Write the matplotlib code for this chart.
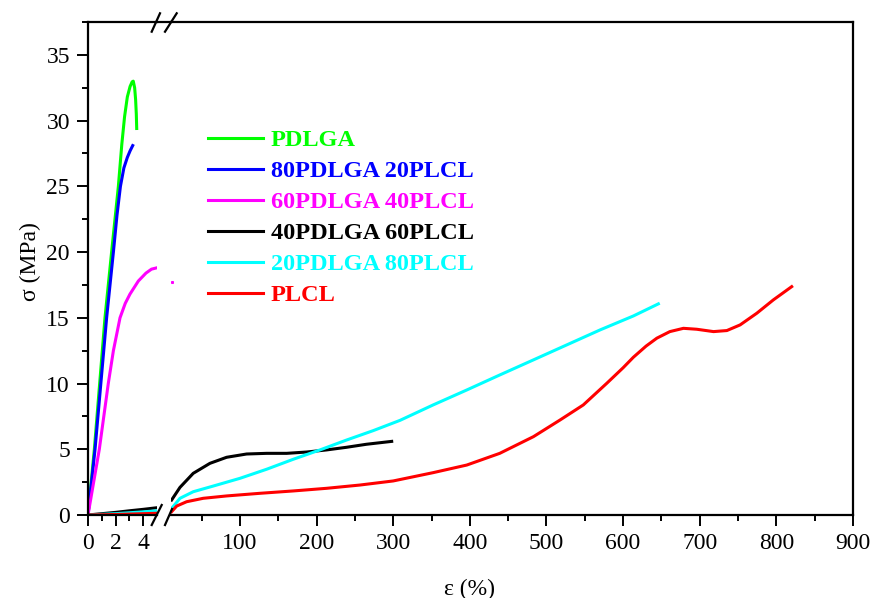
import matplotlib
matplotlib.use("Agg")
import matplotlib.pyplot as plt
from matplotlib.lines import Line2D

plt.rcParams['font.family'] = ['Liberation Serif', 'DejaVu Serif']

labels = ["PDLGA", "80PDLGA 20PLCL", "60PDLGA 40PLCL",
          "40PDLGA 60PLCL", "20PDLGA 80PLCL", "PLCL"]
colors = ["#00ff00", "#0000ff", "#ff00ff", "#000000", "#00ffff", "#ff0000"]

# left part of the broken axis (strain 0-5 %)
pdlga_x = [0, 0.46, 1.23, 1.71, 2.2, 2.45, 2.65, 2.85, 3.05, 3.2, 3.28, 3.38, 3.45, 3.5, 3.53]
pdlga_y = [0, 5.0, 15.0, 20.0, 25.0, 28.2, 30.3, 31.8, 32.6, 32.95, 33.0, 32.5, 31.6, 30.5, 29.4]

p80_x = [0, 0.51, 1.35, 1.84, 2.1, 2.35, 2.6, 2.85, 3.05, 3.24]
p80_y = [0, 5.0, 15.0, 20.0, 22.8, 25.0, 26.4, 27.2, 27.7, 28.1]

p60_x = [0, 0.82, 1.47, 1.84, 2.32, 2.7, 3.04, 3.65, 4.2, 4.6, 4.98]
p60_y = [0, 5.0, 10.0, 12.5, 15.0, 16.1, 16.8, 17.8, 18.4, 18.7, 18.8]
p60_dot_x = [10.8]
p60_dot_y = [17.75]

p40_left_x = [0, 1, 2, 3, 4, 4.97]
p40_left_y = [0, 0.1, 0.2, 0.32, 0.43, 0.55]
p20_left_x = [0, 1, 2, 3, 4, 4.97]
p20_left_y = [0, 0.05, 0.1, 0.17, 0.24, 0.32]
plcl_left_x = [0, 1, 2, 3, 4, 4.97]
plcl_left_y = [0, 0.02, 0.04, 0.07, 0.1, 0.13]

# right part of the broken axis (strain 10-900 %)
p40_x = [10.8, 21.7, 39, 60.8, 82.6, 108.7, 134.8, 161, 187, 213, 239, 265, 298]
p40_y = [1.14, 2.1, 3.17, 3.93, 4.39, 4.64, 4.69, 4.69, 4.79, 4.95, 5.15, 5.38, 5.6]

p20_x = [10.8, 21.7, 39, 65, 100, 134.8, 169.6, 204.4, 239, 274, 308.9, 352,
         396, 439, 483, 526.5, 570, 613.4, 646]
p20_y = [0.5, 1.27, 1.77, 2.2, 2.79, 3.48, 4.24, 4.95, 5.7, 6.42, 7.2, 8.37,
         9.51, 10.65, 11.8, 12.94, 14.08, 15.14, 16.06]

plcl_x = [10.8, 17.4, 30.4, 52, 82.6, 126, 169.6, 213, 256.7, 300, 352, 396,
          439, 483, 517.8, 548, 578.7, 600, 613.4, 630, 644, 661, 678.7, 696, 718,
          735.4, 752.7, 774.5, 796, 820]
plcl_y = [0.25, 0.68, 1.01, 1.27, 1.45, 1.65, 1.83, 2.03, 2.28, 2.59, 3.22, 3.8,
          4.69, 5.96, 7.23, 8.37, 10.02, 11.2, 12.0, 12.85, 13.45, 13.95, 14.2, 14.13,
          13.95, 14.03, 14.46, 15.35, 16.36, 17.37]

fig = plt.figure(figsize=(8.73, 5.98), dpi=100)
ax1 = fig.add_axes([88 / 873, 83 / 598, 69 / 873, 493 / 598])
ax2 = fig.add_axes([171 / 873, 83 / 598, 682 / 873, 493 / 598], sharey=ax1)

lw = 2.2
h = []
h += ax1.plot(pdlga_x, pdlga_y, color=colors[0], lw=lw)
h += ax1.plot(p80_x, p80_y, color=colors[1], lw=lw)
h += ax1.plot(p60_x, p60_y, color=colors[2], lw=lw)
h += ax1.plot(p40_left_x, p40_left_y, color=colors[3], lw=lw)
h += ax1.plot(p20_left_x, p20_left_y, color=colors[4], lw=lw)
h += ax1.plot(plcl_left_x, plcl_left_y, color=colors[5], lw=lw)

ax2.plot(p60_dot_x, p60_dot_y, 's', color=colors[2], ms=1.2)
ax2.plot(p40_x, p40_y, color=colors[3], lw=lw)
ax2.plot(p20_x, p20_y, color=colors[4], lw=lw)
ax2.plot(plcl_x, plcl_y, color=colors[5], lw=lw)

ax1.set_xlim(0, 5.0)
ax2.set_xlim(10, 900)
ax1.set_ylim(0, 37.5)

ax1.set_xticks([0, 2, 4])
ax1.set_xticks([1, 3], minor=True)
ax2.set_xticks(range(100, 901, 100))
ax2.set_xticks(range(50, 900, 100), minor=True)
ax1.set_yticks(range(0, 36, 5))
ax1.set_yticks([2.5 + 5 * i for i in range(8)], minor=True)

for ax in (ax1, ax2):
    for s in ax.spines.values():
        s.set_linewidth(1.6)
    ax.tick_params(which='major', direction='out', length=8, width=1.4,
                   labelsize=17, pad=5)
    ax.tick_params(which='minor', direction='out', length=4.5, width=1.4)
    ax.patch.set_alpha(0)

ax1.spines['right'].set_visible(False)
ax2.spines['left'].set_visible(False)
ax2.tick_params(axis='y', which='both', left=False, labelleft=False)

# top spine runs across the gap
fig.add_artist(Line2D([157 / 873, 171 / 873], [1 - 22 / 598, 1 - 22 / 598],
                      color='black', lw=1.6))

# break marks
for xs, ys in [((151.7, 161.7), (525, 505)), ((165, 172), (525, 509)),
               ((151.7, 160), (31.7, 13.3)), ((165, 176.7), (31.7, 13.3))]:
    fig.add_artist(Line2D([x / 873 for x in xs], [1 - y / 598 for y in ys],
                          color='black', lw=1.6))

fig.text(30 / 873, 1 - 262 / 598, "σ (MPa)", rotation=90, ha='center',
         va='center', fontsize=17)
fig.text(470 / 873, 1 - 589 / 598, "ε (%)", ha='center', va='center',
         fontsize=17)

leg = fig.legend(h, labels, loc='upper left',
                 bbox_to_anchor=(208 / 873, 1 - 129 / 598),
                 frameon=False, labelcolor='linecolor',
                 prop={'weight': 'bold', 'size': 17.5},
                 handlelength=2.26, handletextpad=0.33, labelspacing=0.37,
                 borderpad=0, borderaxespad=0)

fig.savefig("out.png", dpi=100)
